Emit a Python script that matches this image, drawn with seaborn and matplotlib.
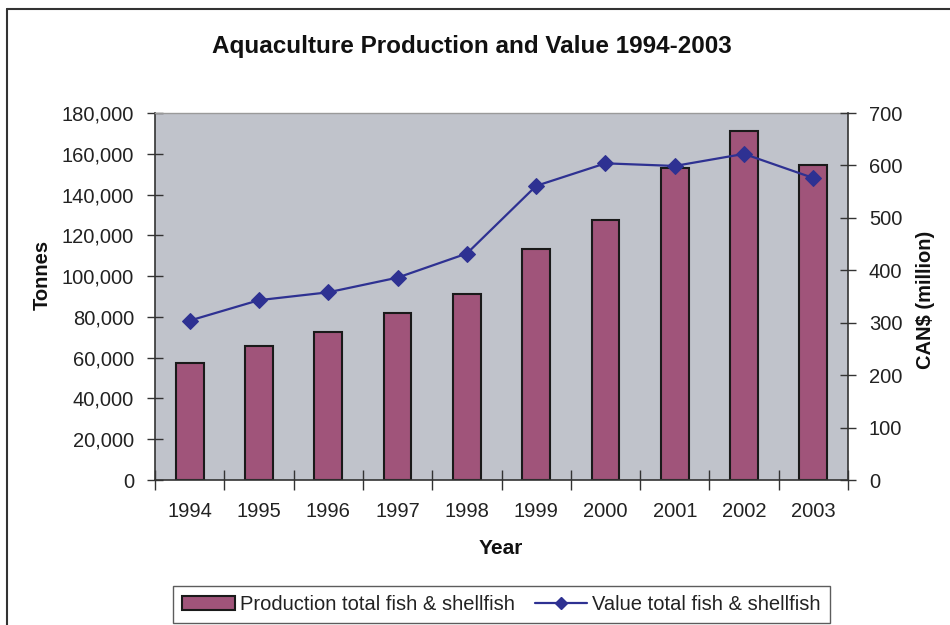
import matplotlib
matplotlib.use("Agg")
import matplotlib.pyplot as plt
import seaborn as sns
import numpy as np
import pandas as pd
from matplotlib.patches import Patch
from matplotlib.lines import Line2D
from matplotlib.ticker import FuncFormatter, MultipleLocator

years = ["1994", "1995", "1996", "1997", "1998", "1999", "2000", "2001", "2002", "2003"]
production_tonnes = [57300, 65900, 72500, 81800, 91150, 113200, 127300, 153150, 171300, 154600]
value_million = [304, 343, 358, 386, 432, 561, 604, 599, 622, 576]

title = "Aquaculture Production and Value 1994-2003"
bar_label = "Production total fish & shellfish"
line_label = "Value total fish & shellfish"

bar_color = "#A0547A"
line_color = "#2E3192"
bg_color = "#C0C3CB"
text_color = "#222222"

sns.set_theme(style="white")
plt.rcParams["font.family"] = ["Liberation Sans", "DejaVu Sans"]

df = pd.DataFrame({"Year": years, "Production": production_tonnes, "Value": value_million})
df["pos"] = np.arange(len(years))

fig = plt.figure(figsize=(9.5, 6.25), dpi=100)
ax = fig.add_axes([155 / 950, 1 - 480 / 625, (848 - 155) / 950, (480 - 113) / 625])
ax.set_facecolor(bg_color)

sns.barplot(data=df, x="Year", y="Production", color=bar_color, width=0.4,
            edgecolor="#1a1a1a", linewidth=1.5, saturation=1, ax=ax)
ax.set_ylim(0, 180000)
ax.set_xlim(-0.5, len(years) - 0.5)
ax.yaxis.set_major_locator(MultipleLocator(20000))
ax.yaxis.set_major_formatter(FuncFormatter(lambda v, p: f"{int(v):,}"))
ax.set_xticks(np.arange(len(years)))
ax.set_xticklabels(years)
ax.set_xticks(np.arange(-0.5, len(years)), minor=True)
ax.tick_params(axis="x", which="major", length=0, pad=16, labelsize=14.5, labelcolor=text_color)
ax.tick_params(axis="x", which="minor", direction="inout", length=14, width=1, color="#333333", bottom=True)
ax.tick_params(axis="y", direction="inout", length=12, width=1, color="#333333", left=True,
               pad=9, labelsize=14.5, labelcolor=text_color)
ax.set_xlabel("")
ax.set_ylabel("")
for side in ["left", "bottom"]:
    ax.spines[side].set_color("#333333")
    ax.spines[side].set_linewidth(1.2)
ax.spines["top"].set_color("#9a9a9a")
ax.spines["top"].set_linewidth(1)
ax.spines["right"].set_visible(False)

ax2 = ax.twinx()
sns.lineplot(data=df, x="pos", y="Value", color=line_color, marker="D", markersize=8,
             markeredgecolor=line_color, linewidth=1.6, ax=ax2)
ax2.set_ylim(0, 700)
ax2.set_xlim(-0.5, len(years) - 0.5)
ax2.yaxis.set_major_locator(MultipleLocator(100))
ax2.tick_params(axis="y", direction="inout", length=12, width=1, color="#333333", right=True,
                pad=9, labelsize=14.5, labelcolor=text_color)
ax2.set_xlabel("")
ax2.set_ylabel("")
for side in ["left", "top", "bottom"]:
    ax2.spines[side].set_visible(False)
ax2.spines["right"].set_color("#333333")
ax2.spines["right"].set_linewidth(1.2)

fig.text(0.497, 0.925, title, ha="center", va="center", fontsize=17.5, fontweight="bold", color="#111111")
fig.text(0.045, 0.56, "Tonnes", ha="center", va="center", rotation=90, fontsize=14.5, fontweight="bold", color="#111111")
fig.text(0.974, 0.52, "CAN$ (million)", ha="center", va="center", rotation=90, fontsize=14.5, fontweight="bold", color="#111111")
fig.text(0.527, 0.123, "Year", ha="center", va="center", fontsize=15, fontweight="bold", color="#111111")

handles = [Patch(facecolor=bar_color, edgecolor="#1a1a1a", linewidth=1.5, label=bar_label),
           Line2D([0], [0], color=line_color, marker="D", markersize=6, linewidth=1.6, label=line_label)]
leg = fig.legend(handles=handles, loc="center", bbox_to_anchor=(0.528, 0.033), ncol=2,
                 frameon=True, fancybox=False, fontsize=14.5, handlelength=2.6, handletextpad=0.25,
                 columnspacing=1.0, borderpad=0.45)
leg.get_frame().set_edgecolor("#333333")
leg.get_frame().set_linewidth(1)
for t in leg.get_texts():
    t.set_color(text_color)

# outer chart border (top and left visible)
fig.add_artist(Line2D([7 / 950, 7 / 950], [0, 1 - 9 / 625], transform=fig.transFigure, color="#333333", linewidth=1.5))
fig.add_artist(Line2D([7 / 950, 1], [1 - 9 / 625, 1 - 9 / 625], transform=fig.transFigure, color="#333333", linewidth=1.5))

fig.savefig("out.png", dpi=100)
